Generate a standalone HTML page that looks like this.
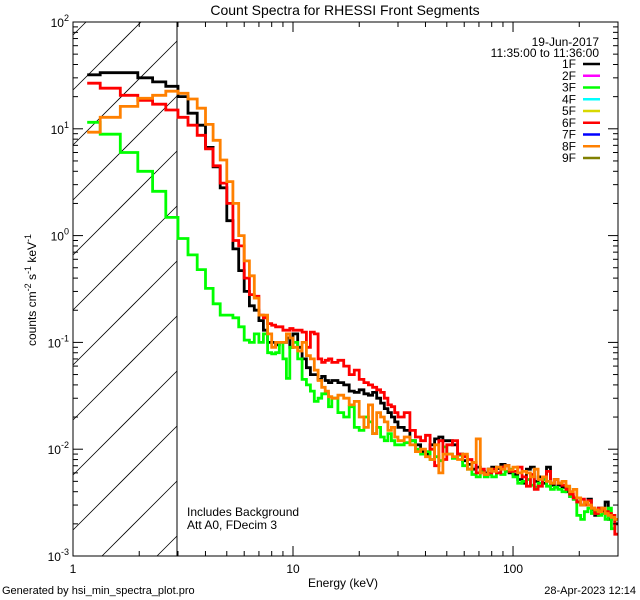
<!DOCTYPE html>
<html><head><meta charset="utf-8"><style>
html,body{margin:0;padding:0;background:#fff;width:640px;height:600px;overflow:hidden}
svg{display:block;font-family:"Liberation Sans",sans-serif}
</style></head><body>
<svg id="chart" width="640" height="600" viewBox="0 0 640 600" xmlns="http://www.w3.org/2000/svg">
<rect width="640" height="600" fill="#fff"/>
<defs><clipPath id="plotclip"><rect x="73" y="22" width="545" height="534"/></clipPath></defs>
<text x="345" y="15" font-size="14" text-anchor="middle">Count Spectra for RHESSI Front Segments</text>
<g id="hatch" stroke="#000" stroke-width="0.8"></g>
<line x1="177" y1="22" x2="177" y2="556" stroke="#000" stroke-width="1"/>
<g id="series" clip-path="url(#plotclip)"></g>
<rect x="73" y="22" width="545" height="534" fill="none" stroke="#000" stroke-width="1"/>
<g id="axes" stroke="#000" stroke-width="1"></g>
<g id="labels" font-size="12"></g>
<text transform="translate(36,290) rotate(-90)" font-size="12" text-anchor="middle">counts cm<tspan dy="-5" font-size="9">-2</tspan><tspan dy="5"> s</tspan><tspan dy="-5" font-size="9">-1</tspan><tspan dy="5"> keV</tspan><tspan dy="-5" font-size="9">-1</tspan></text>
<text x="343" y="587" font-size="12" text-anchor="middle">Energy (keV)</text>
<text x="2" y="594" font-size="11">Generated by hsi_min_spectra_plot.pro</text>
<text x="636" y="594" font-size="11" text-anchor="end">28-Apr-2023 12:14</text>
<text x="187" y="516" font-size="12">Includes Background</text>
<text x="187" y="529" font-size="12">Att A0, FDecim 3</text>
<text x="599" y="46" font-size="12" text-anchor="end">19-Jun-2017</text>
<text x="599" y="57" font-size="12" text-anchor="end">11:35:00 to 11:36:00</text>
<g id="legend" font-size="12"></g>
</svg>
<script>
const edges=[1.16,1.33,1.64,1.97,2.3,2.64,
3.0,3.333,3.667,4.0,4.333,4.667,5.0,5.333,5.667,6.0,6.333,6.667,7.0,7.333,7.667,8.0,8.333,8.667,9.0,9.333,9.667,10,
10.5,11,11.5,12,12.5,13,13.5,14,14.5,15,
16,17,18,19,20,21,22,23,24,25,26,27,28,29,30,
32,34,36,38,40,42,44,46,48,50,
53,56,59,62,65,68,71,74,77,80,
84,88,92,96,100,
105,110,115,120,125,130,
136,142,148,154,160,
167,174,181,188,195,
203,211,219,227,235,
244,253,262,271,280,
290,300];
const seg1F=[32,33.5,33.5,30,27.5,25,
20,14,10.8,6.7,4.4,2.8,1.38,0.75,0.47,0.30,0.22,0.20,0.16,0.13,0.10,0.10,0.095,0.10,0.10,0.11,0.09,
0.12,0.09,0.07,0.058,0.05,0.05,0.045,0.048,0.044,0.042,
0.044,0.042,0.04,0.035,0.034,0.036,0.033,0.032,0.034,0.03,0.027,0.024,0.022,0.02,0.018,
0.016,0.015,0.012,0.011,0.0095,0.009,0.011,0.0125,0.013,0.012,
0.012,0.011,0.009,0.0078,0.0072,0.0065,0.0068,0.0062,0.006,0.0065,
0.0068,0.0066,0.0072,0.007,0.006,
0.0058,0.0052,0.0048,0.0065,0.0068,0.005,
0.0055,0.0048,0.0068,0.0046,0.0052,
0.0046,0.0044,0.004,0.0036,0.0034,
0.0032,0.003,0.0032,0.0034,0.0027,
0.0024,0.0028,0.0026,0.0032,0.0022,
0.0024,0.002];
const seg3F=[11.5,8.9,6.0,4.0,2.6,1.48,
0.94,0.66,0.48,0.32,0.23,0.18,0.18,0.17,0.14,0.105,0.1,0.12,0.1,0.12,0.08,0.078,0.08,0.1,0.07,0.046,0.09,
0.1,0.07,0.045,0.04,0.035,0.028,0.03,0.033,0.033,0.025,
0.03,0.022,0.02,0.025,0.016,0.015,0.02,0.018,0.014,0.016,0.013,0.012,0.014,0.012,0.011,
0.011,0.0115,0.012,0.01,0.009,0.0095,0.008,0.0085,0.0078,0.0105,
0.009,0.0082,0.0088,0.007,0.0065,0.0058,0.0055,0.0062,0.0055,0.0058,
0.0055,0.006,0.0058,0.0062,0.0065,
0.0055,0.0048,0.005,0.0052,0.0046,0.0044,
0.0048,0.0052,0.0045,0.0042,0.0044,
0.0042,0.004,0.0043,0.0036,0.0034,
0.0024,0.0022,0.0026,0.0028,0.0025,
0.0026,0.0024,0.0025,0.0022,0.0028,
0.0018,0.0022];
const seg6F=[26.7,24,20.6,18.5,17,15,
12.8,10.8,8.7,6.5,4.5,3.1,2.0,0.9,0.8,0.4,0.28,0.27,0.18,0.17,0.15,0.145,0.14,0.14,0.13,0.13,0.135,
0.13,0.13,0.125,0.09,0.125,0.12,0.07,0.065,0.068,0.07,
0.065,0.068,0.06,0.05,0.055,0.045,0.042,0.04,0.038,0.036,0.034,0.03,0.026,0.025,0.022,
0.02,0.022,0.015,0.013,0.012,0.0135,0.01,0.007,0.012,0.008,
0.011,0.012,0.009,0.0085,0.008,0.0075,0.006,0.0065,0.0058,0.006,
0.0065,0.006,0.0068,0.007,0.0062,
0.0062,0.0068,0.0055,0.0045,0.0058,0.0042,
0.0045,0.0055,0.0062,0.0048,0.0052,
0.0048,0.0046,0.0042,0.0038,0.0035,
0.0032,0.0034,0.003,0.0033,0.0028,
0.0025,0.0028,0.0027,0.0026,0.0025,
0.0024,0.0016];
const seg8F=[9.3,12.8,16.2,19.3,20.6,22.5,
21.5,19,15.6,11,7.8,5.1,3.2,2.0,1.0,0.58,0.42,0.26,0.18,0.18,0.12,0.09,0.1,0.1,0.1,0.12,0.11,
0.09,0.083,0.1,0.075,0.07,0.055,0.044,0.038,0.035,0.031,
0.03,0.032,0.03,0.026,0.028,0.02,0.016,0.026,0.014,0.022,0.02,0.018,0.015,0.016,0.013,
0.012,0.013,0.011,0.0095,0.01,0.0085,0.008,0.011,0.006,0.009,
0.009,0.0085,0.008,0.009,0.0065,0.0075,0.0125,0.006,0.0058,0.0065,
0.0062,0.0068,0.0065,0.007,0.0064,
0.0068,0.006,0.0062,0.006,0.0055,0.0065,
0.0052,0.0055,0.005,0.0048,0.0052,
0.0048,0.005,0.0045,0.004,0.0042,
0.0035,0.003,0.0032,0.003,0.0028,
0.0027,0.0026,0.0028,0.0025,0.0024,
0.0023,0.0022];
const xTickLabels=["1","10","100"];
const yTickExps=["-3","-2","-1","0","1","2"];
const legendLabels=["1F","2F","3F","4F","5F","6F","7F","8F","9F"];
const legendColors=["#000","#ff00ff","#00ff00","#00ffff","#d8d800","#ff0000","#0000ff","#ff8000","#808000"];

const X0=73,X1=618,Y0=22,Y1=556;
const xmin=1,xmax=300,ymin=1e-3,ymax=1e2;
function xs(e){return X0+(Math.log10(e)-Math.log10(xmin))/(Math.log10(xmax)-Math.log10(xmin))*(X1-X0);}
function ys(v){return Y1-(Math.log10(v)-Math.log10(ymin))/(Math.log10(ymax)-Math.log10(ymin))*(Y1-Y0);}
const NS="http://www.w3.org/2000/svg";
function mk(tag,attrs,parent){const e=document.createElementNS(NS,tag);for(const k in attrs)e.setAttribute(k,attrs[k]);parent.appendChild(e);return e;}

// hatch lines, clipped manually to x in [73,177], y in [22,556]; line: y = b - (x - 73)
const hatch=document.getElementById('hatch');
const HX1=177;
for(let c=-600;c<700;c+=55){
  const b=85+c;
  let xa=X0, xb=HX1;
  // y at xa = b, y at xb = b-(xb-X0)
  // require Y0 <= y <= Y1  => x in [b - Y1 + X0, b - Y0 + X0]
  xa=Math.max(xa,b-Y1+X0);
  xb=Math.min(xb,b-Y0+X0);
  if(xb-xa<=0.5)continue;
  const l=mk('line',{x1:xa,y1:b-(xa-X0),x2:xb,y2:b-(xb-X0)},hatch);
  
  
}

const sg=document.getElementById('series');
function drawSeries(vals,color,name){
  let d='';
  const n=Math.min(vals.length,edges.length-1);
  for(let i=0;i<n;i++){
    const xa=xs(edges[i]),xb=xs(edges[i+1]),y=ys(vals[i]);
    d+=(i===0?'M':'L')+xa.toFixed(1)+','+y.toFixed(1)+'L'+xb.toFixed(1)+','+y.toFixed(1);
  }
  const p=mk('path',{d:d,fill:'none',stroke:color,'stroke-width':2.8,'stroke-linejoin':'miter'},sg);
  
  
}
drawSeries(seg1F,'#000','series-1f');
drawSeries(seg3F,'#00ff00','series-3f');
drawSeries(seg6F,'#ff0000','series-6f');
drawSeries(seg8F,'#ff8000','series-8f');

const ax=document.getElementById('axes');
const lab=document.getElementById('labels');
for(let dec=0;dec<=2;dec++){
  for(let m=1;m<=9;m++){
    const e=m*Math.pow(10,dec);
    if(e<xmin||e>xmax)continue;
    const x=xs(e),len=(m===1)?10:5;
    const t1=mk('line',{x1:x,y1:Y1,x2:x,y2:Y1-len},ax);
    
    
    const t2=mk('line',{x1:x,y1:Y0,x2:x,y2:Y0+len},ax);
    
    
  }
}
xTickLabels.forEach(s=>{
  const t=mk('text',{x:xs(parseFloat(s)),y:Y1+17,'text-anchor':'middle'},lab);
  t.textContent=s;
  
  
});
for(let dec=-3;dec<=2;dec++){
  for(let m=1;m<=9;m++){
    const v=m*Math.pow(10,dec);
    if(v>ymax*1.0001)continue;
    const y=ys(v),len=(m===1)?10:5;
    const t1=mk('line',{x1:X0,y1:y,x2:X0+len,y2:y},ax);
    
    
    const t2=mk('line',{x1:X1,y1:y,x2:X1-len,y2:y},ax);
    
    
  }
}
yTickExps.forEach(s=>{
  const y=ys(Math.pow(10,parseFloat(s)));
  const t=mk('text',{x:X0-4,y:y+5,'text-anchor':'end'},lab);
  
  
  const b=mk('tspan',{},t);b.textContent='10';
  const sup=mk('tspan',{dy:-6,'font-size':9},t);sup.textContent=s;
});

const lg=document.getElementById('legend');
legendLabels.forEach((s,i)=>{
  const y=64+i*11.75;
  const t=mk('text',{x:576,y:y+4,'text-anchor':'end'},lg);
  t.textContent=s;
  
  
  const l=mk('line',{x1:583,y1:y,x2:600,y2:y,stroke:legendColors[i],'stroke-width':2.5},lg);
  
  
});
</script>
</body></html>
